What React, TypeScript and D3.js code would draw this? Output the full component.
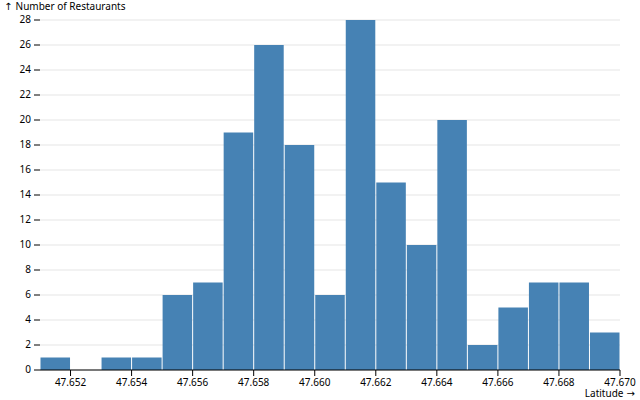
import React from "react";
import * as d3 from "d3";

const binStarts = [47.651, 47.652, 47.653, 47.654, 47.655, 47.656, 47.657, 47.658, 47.659, 47.66, 47.661, 47.662, 47.663, 47.664, 47.665, 47.666, 47.667, 47.668, 47.669];
const counts = [1, 0, 1, 1, 6, 7, 19, 26, 18, 6, 28, 15, 10, 20, 2, 5, 7, 7, 3];
const binWidth = 0.001;
const xTicks = [47.652, 47.654, 47.656, 47.658, 47.66, 47.662, 47.664, 47.666, 47.668, 47.67];
const yTicks = [0, 2, 4, 6, 8, 10, 12, 14, 16, 18, 20, 22, 24, 26, 28];

const W = 640, H = 400;
const mL = 40, mR = 20, mT = 20, mB = 30;
const arrowFont = "'DejaVu Sans', sans-serif";

export default function App() {
  const x = d3.scaleLinear().domain([47.651, 47.67]).range([mL, W - mR]);
  const y = d3.scaleLinear().domain([0, 28]).range([H - mB, mT]);
  const fmt = d3.format(".3f");
  return (
    <svg width={W} height={H} viewBox={`0 0 ${W} ${H}`}
      style={{ position: "absolute", left: 0, top: 0, background: "white", fontFamily: "'Noto Sans', sans-serif", fontSize: 10 }}>
      <g stroke="currentColor" strokeOpacity={0.1}>
        {yTicks.map(t => (
          <line key={t} x1={mL} x2={W - mR} y1={y(t)} y2={y(t)} />
        ))}
      </g>
      <g fill="steelblue">
        {binStarts.map((b, i) => counts[i] > 0 ? (
          <rect key={i} x={x(b) + 0.5} width={x(b + binWidth) - x(b) - 1} y={y(counts[i])} height={y(0) - y(counts[i])} />
        ) : null)}
      </g>
      <g>
        {yTicks.map(t => (
          <g key={t} transform={`translate(0,${y(t)})`}>
            <line x1={mL - 6} x2={mL} stroke="currentColor" />
            <text x={mL - 9} dy="0.32em" textAnchor="end" fill="currentColor">{t}</text>
          </g>
        ))}
        <text x={4} y={10} fill="currentColor"><tspan fontFamily={arrowFont}>↑ </tspan>Number of Restaurants</text>
      </g>
      <g>
        {xTicks.map(t => (
          <g key={t} transform={`translate(${x(t)},${H - mB})`}>
            <line y1={0} y2={6} stroke="currentColor" />
            <text y={9} dy="0.71em" textAnchor="middle" fill="currentColor">{fmt(t)}</text>
          </g>
        ))}
        <text x={635} y={397} textAnchor="end" fill="currentColor">Latitude<tspan fontFamily={arrowFont}> →</tspan></text>
      </g>
      <line x1={mL} x2={W - mR} y1={y(0)} y2={y(0)} stroke="currentColor" />
    </svg>
  );
}
